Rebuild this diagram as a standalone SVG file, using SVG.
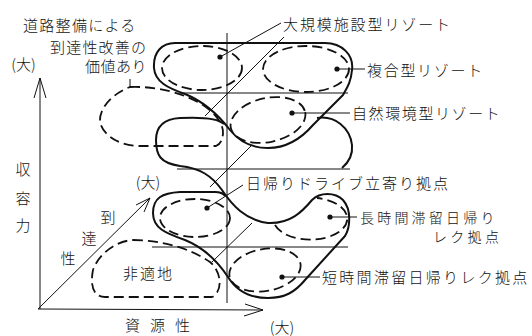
<svg xmlns="http://www.w3.org/2000/svg" width="532" height="336" viewBox="0 0 532 336">
<style>
.solid{fill:none;stroke:#111;stroke-width:2;stroke-linejoin:round}
.dash{fill:none;stroke:#111;stroke-width:1.8;stroke-dasharray:10 5}
.thin{fill:none;stroke:#111;stroke-width:1}
.dot{fill:#111}
.t{font-family:"Noto Sans CJK JP","Noto Sans CJK SC",sans-serif;font-size:15px;font-weight:300;fill:#111}
.s{font-size:14px}
</style>
<rect width="532" height="336" fill="#fff"/>

<g id="grid">
<line class="thin" x1="227" y1="33" x2="227" y2="303"/>
<line class="thin" x1="180" y1="93" x2="348" y2="93"/>
<line class="thin" x1="177" y1="169" x2="350" y2="169"/>
<line class="thin" x1="152" y1="247" x2="348" y2="247"/>
<line class="thin" x1="284" y1="37" x2="205" y2="116"/>
<line class="thin" x1="252" y1="145" x2="210" y2="187"/>
<line class="thin" x1="252" y1="223" x2="212" y2="262"/>
</g>

<g id="axes">
<line class="thin" x1="40" y1="309" x2="40" y2="78"/>
<polyline class="thin" points="34,98 40,78 46,98"/>
<line class="thin" x1="38" y1="309" x2="263" y2="310"/>
<polyline class="thin" points="245,304 263,310 244,316"/>
<line class="thin" x1="38" y1="309" x2="150" y2="198"/>
<polyline class="thin" points="136,205 150,198 144,212"/>
<text class="t" x="23.5" y="69.7" text-anchor="middle">(大)</text>
<text class="t" x="23" y="174.7" text-anchor="middle">収</text>
<text class="t" x="23" y="203.7" text-anchor="middle">容</text>
<text class="t" x="23" y="230.7" text-anchor="middle">力</text>
<text class="t" x="148" y="187.7" text-anchor="middle">(大)</text>
<text class="t" x="108" y="222.7" text-anchor="middle">到</text>
<text class="t" x="89" y="243.7" text-anchor="middle">達</text>
<text class="t" x="68" y="263.7" text-anchor="middle">性</text>
<text class="t" x="125" y="330.7" letter-spacing="10">資源性</text>
<text class="t" x="282" y="333" text-anchor="middle">(大)</text>
</g>

<g id="upper-zone">
<path class="solid" d="M175,43 L325,43 C342,43 354,55 352,70 C351,82 347,88 343,95 L313,125 C300,140 285,148 268,148 C250,148 238,140 230,130 C220,117 205,102 185,94 C168,88 155,82 154,68 C153,52 162,43 175,43 Z"/>
<path class="solid" d="M317,118 C335,115 350,128 352,145 C353,155 349,162 342,168"/>
</g>

<g id="lower-zone">
<path class="solid" d="M224,124 C218,118 200,117 180,118 C163,119 156,127 156,140 C156,155 160,163 180,166 C200,168 212,176 222,190 C232,205 245,220 268,223 C290,224 302,212 312,200 C320,192 335,192 343,200 C352,210 350,228 345,236 L305,280 C295,292 285,298 268,298 C250,298 236,290 228,277 C218,262 205,248 185,240 C165,233 153,228 153,213 C153,198 162,193 180,192 L215,192 C220,192 223,193 225,196"/>
</g>

<g id="node-kachi">
<path class="dash" d="M130,87 C160,86 185,94 203,105 C215,113 224,124 223,134 C222,140 221,144 216,146 L140,146 C120,146 103,136 100,122 C99,108 112,94 130,87 Z"/>
<text class="t" x="23" y="30.7" letter-spacing="1.3">道路整備による</text>
<text class="t" x="50" y="52.7" letter-spacing="1.2">到達性改善の</text>
<text class="t" x="85" y="71.7" letter-spacing="0.5">価値あり</text>
</g>

<g id="node-daikibo">
<ellipse class="dash" cx="202" cy="68" rx="40" ry="22"/>
<circle class="dot" cx="220" cy="57" r="2.6"/>
<text class="t" x="283" y="30.2" letter-spacing="1.9">大規模施設型リゾート</text>
</g>

<g id="node-fukugo">
<ellipse class="dash" cx="306" cy="69" rx="43" ry="23"/>
<circle class="dot" cx="337" cy="69" r="2.6"/>
<text class="t" x="367" y="75.7" letter-spacing="1.7">複合型リゾート</text>
</g>

<g id="node-shizen">
<ellipse class="dash" cx="268" cy="120" rx="38" ry="22" transform="rotate(-12 268 120)"/>
<circle class="dot" cx="292" cy="113" r="2.6"/>
<text class="t" x="352" y="118.7" letter-spacing="1.6">自然環境型リゾート</text>
</g>

<g id="node-drive">
<ellipse class="dash" cx="195" cy="218" rx="35" ry="19"/>
<circle class="dot" cx="207" cy="208" r="2.6"/>
<text class="t" x="246" y="188.7" letter-spacing="2">日帰りドライブ立寄り拠点</text>
</g>

<g id="node-choujikan">
<path class="dash" d="M275,225 A37,21 0 1 0 317,198"/>
<circle class="dot" cx="330" cy="217" r="2.6"/>
<text class="t s" x="360" y="222.5" letter-spacing="3.2">長時間滞留日帰り</text>
<text class="t s" x="433" y="241.5" letter-spacing="3.3">レク拠点</text>
</g>

<g id="node-tanjikan">
<ellipse class="dash" cx="265" cy="270" rx="36" ry="21" transform="rotate(-10 265 270)"/>
<circle class="dot" cx="282" cy="277" r="2.6"/>
<text class="t" x="322" y="282.7" letter-spacing="2.3">短時間滞留日帰りレク拠点</text>
</g>

<g id="node-futekichi">
<path class="dash" d="M133,240 C160,240 190,248 210,262 C222,272 223,292 212,297 L105,297 C93,297 90,285 93,270 C98,255 115,241 133,240 Z"/>
<text class="t" x="123" y="278.7" letter-spacing="2">非適地</text>
</g>

<g id="connectors">
<line class="thin" x1="130" y1="79" x2="130" y2="88"/>
<line class="thin" x1="220" y1="57" x2="281" y2="23"/>
<line class="thin" x1="337" y1="69" x2="365" y2="69"/>
<line class="thin" x1="292" y1="113" x2="350" y2="113"/>
<line class="thin" x1="207" y1="208" x2="243" y2="185"/>
<line class="thin" x1="330" y1="217" x2="357" y2="217"/>
<line class="thin" x1="282" y1="277" x2="320" y2="277"/>
</g>
</svg>
